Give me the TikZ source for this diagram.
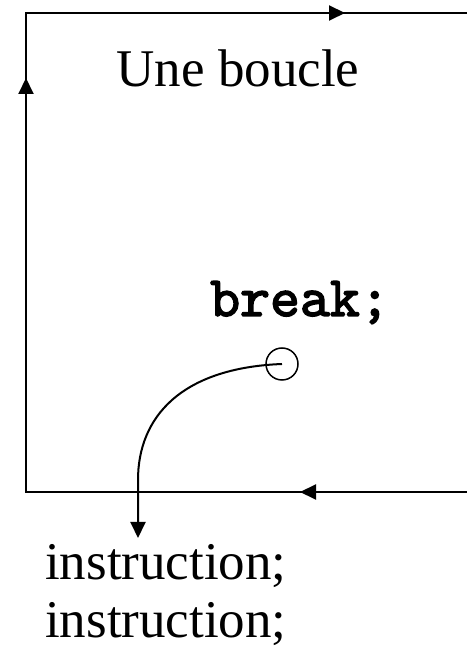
\documentclass[tikz,border=0pt]{standalone}
\usepackage{fontspec}
\setmainfont{Liberation Serif}
\newfontfamily\codefont{lmmono10-regular.otf}[FakeBold=2.5]
\usetikzlibrary{positioning, arrows.meta}

\begin{document}
\begin{tikzpicture}[
    x=1pt, y=1pt,
    bigtext/.style={
        font=\fontsize{53}{58}\selectfont,
        inner sep=0pt
    },
    codetext/.style={
        font=\fontsize{57}{60}\selectfont\codefont,
        inner sep=0pt
    },
    line/.style={
        draw,
        line width=2pt
    },
    flow/.style={
        draw,
        line width=2pt,
        -{Triangle[length=16pt, width=15pt]}
    }
]
\useasboundingbox (0,0) rectangle (466,648);

% --- Loop frame corners ---
\coordinate (bl) at (26,156);
\coordinate (tl) at (26,635);
\coordinate (tr) at (470,635);
\coordinate (br) at (470,156);

% --- Arrow points on the frame ---
\coordinate (lefttip) at (26,570);
\coordinate (toptip) at (345,635);
\coordinate (bottip) at (300,156);

% --- Texts ---
\node[bigtext, anchor=base] (loop) at (238,561) {Une boucle};
\node[codetext, anchor=base] (brk) at (300,332) {break;};
\node[circle, draw, line width=1.5pt, minimum size=32pt, inner sep=0pt] (brkpt) at (282,284) {};
\node[bigtext, anchor=base west] (instr1) at (45,68) {instruction;};
\node[bigtext, anchor=base west] (instr2) at (45,10) {instruction;};

\coordinate (exit) at (138,110);

% --- Frame ---
\draw[line] (br) -- (bl) -- (tl) -- (tr);
\draw[flow] (bl) -- (lefttip);
\draw[flow] (tl) -- (toptip);
\draw[flow] (br) -- (bottip);

% --- Jump out of the loop ---
\draw[flow] (brkpt.center) .. controls (180,280) and (138,230) .. (138,168) -- (exit);

\end{tikzpicture}
\end{document}
